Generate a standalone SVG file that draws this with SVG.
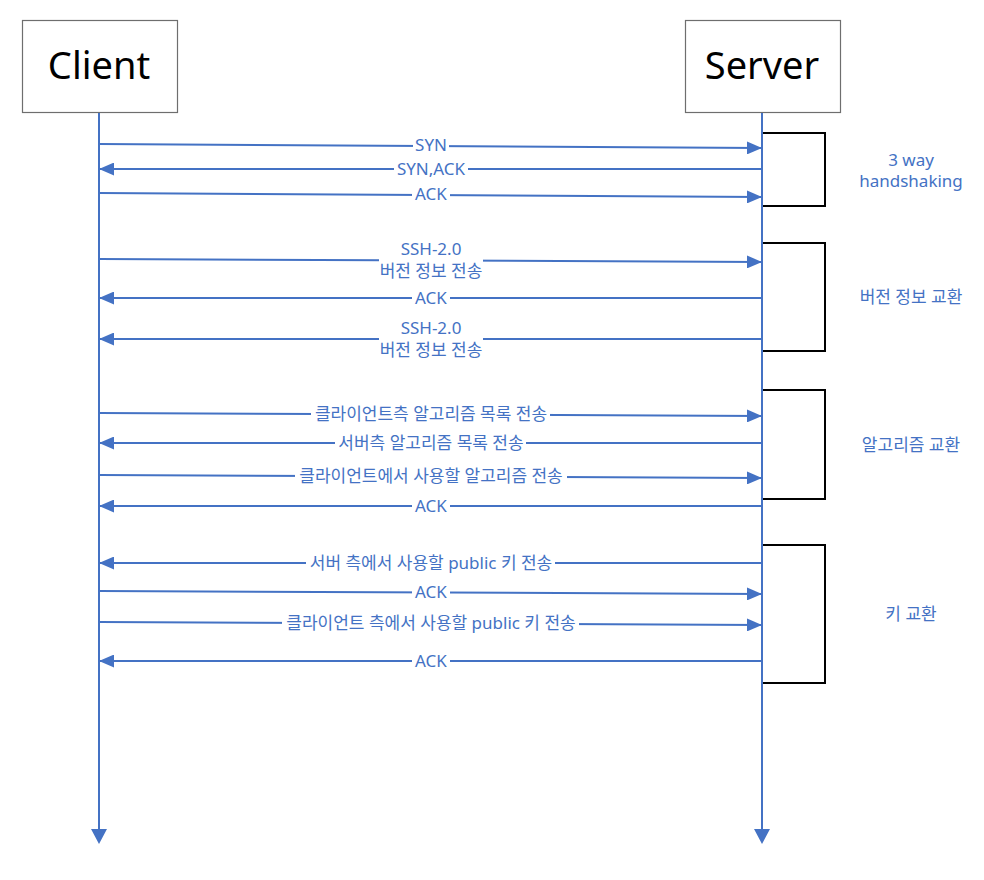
<svg xmlns="http://www.w3.org/2000/svg" width="984" height="880" viewBox="0 0 984 880">
<style>
.box{fill:#fff;stroke:#6e6e6e;stroke-width:1.2}
.title{font-family:"Noto Sans","Noto Sans CJK KR",sans-serif;font-size:38px;fill:#000;text-anchor:middle}
.life{stroke:#4472C4;stroke-width:2;fill:none}
.msg{stroke:#4472C4;stroke-width:2;fill:none;marker-end:url(#ah)}
.gap{fill:#fff}
.lbl{font-family:"Noto Sans","Noto Sans CJK KR",sans-serif;fill:#4472C4;text-anchor:middle}
.en{font-size:17px}
.ko{font-size:17px}
.mx{font-size:17px}
.br{fill:none;stroke:#000;stroke-width:2}
</style>
<defs>
<marker id="ah" viewBox="0 0 15 13" refX="15" refY="6.5" markerWidth="15" markerHeight="13" markerUnits="userSpaceOnUse" orient="auto">
<path d="M0,0 L15,6.5 L0,13 Z" fill="#4472C4"/>
</marker>
</defs>
<rect width="984" height="880" fill="#fff"/>

<g id="phase-3way">
<path class="br" d="M762,133 H825 V206 H762"/>
<text class="lbl en" x="911" y="166">3 way</text>
<text class="lbl en" x="911" y="187">handshaking</text>
</g>
<g id="phase-version">
<path class="br" d="M762,243 H825 V351 H762"/>
<text class="lbl ko" x="911" y="303">버전 정보 교환</text>
</g>
<g id="phase-algorithm">
<path class="br" d="M762,390 H825 V499 H762"/>
<text class="lbl ko" x="911" y="451">알고리즘 교환</text>
</g>
<g id="phase-key">
<path class="br" d="M762,545 H825 V683 H762"/>
<text class="lbl ko" x="911" y="620">키 교환</text>
</g>

<g id="client">
<rect class="box" x="22.5" y="20.5" width="155" height="92"/>
<text class="title" x="99" y="79">Client</text>
</g>
<g id="server">
<rect class="box" x="685.5" y="20.5" width="155" height="92"/>
<text class="title" x="762" y="79">Server</text>
</g>

<g id="connectors">
<path class="life" d="M99,113 V832"/>
<path class="life" d="M762,113 V832"/>
<path d="M754,829 L770,829 L762,844 Z" fill="#4472C4"/>
<path d="M91,829 L107,829 L99,844 Z" fill="#4472C4"/>

<path class="msg" d="M99,144 L762,148"/>
<path class="msg" d="M762,169 L99,169"/>
<path class="msg" d="M99,193 L762,197"/>
<path class="msg" d="M99,259 L762,262"/>
<path class="msg" d="M762,298 L99,298"/>
<path class="msg" d="M762,339 L99,339"/>
<path class="msg" d="M99,413 L762,416"/>
<path class="msg" d="M762,443 L99,443"/>
<path class="msg" d="M99,475 L762,478"/>
<path class="msg" d="M762,506 L99,506"/>
<path class="msg" d="M762,563 L99,563"/>
<path class="msg" d="M99,591 L762,594"/>
<path class="msg" d="M99,622 L762,625"/>
<path class="msg" d="M762,661 L99,661"/>

<rect class="gap" x="413" y="138" width="36" height="16"/>
<rect class="gap" x="394" y="161" width="74" height="16"/>
<rect class="gap" x="412" y="187" width="38" height="16"/>
<rect class="gap" x="379" y="252" width="104" height="17"/>
<rect class="gap" x="412" y="290" width="38" height="16"/>
<rect class="gap" x="379" y="331" width="104" height="17"/>
<rect class="gap" x="311" y="406" width="239" height="17"/>
<rect class="gap" x="335" y="435" width="191" height="16"/>
<rect class="gap" x="295" y="468" width="272" height="17"/>
<rect class="gap" x="412" y="498" width="38" height="16"/>
<rect class="gap" x="306" y="555" width="249" height="16"/>
<rect class="gap" x="412" y="584" width="38" height="17"/>
<rect class="gap" x="282" y="615" width="297" height="17"/>
<rect class="gap" x="412" y="653" width="38" height="16"/>

<text class="lbl en" x="431" y="151">SYN</text>
<text class="lbl en" x="431" y="175">SYN,ACK</text>
<text class="lbl en" x="431" y="200">ACK</text>
<text class="lbl en" x="431" y="255">SSH-2.0</text>
<text class="lbl ko" x="431" y="277">버전 정보 전송</text>
<text class="lbl en" x="431" y="304">ACK</text>
<text class="lbl en" x="431" y="334">SSH-2.0</text>
<text class="lbl ko" x="431" y="356">버전 정보 전송</text>
<text class="lbl ko" x="431" y="420">클라이언트측 알고리즘 목록 전송</text>
<text class="lbl ko" x="431" y="449">서버측 알고리즘 목록 전송</text>
<text class="lbl ko" x="431" y="482">클라이언트에서 사용할 알고리즘 전송</text>
<text class="lbl en" x="431" y="512">ACK</text>
<text class="lbl mx" x="431" y="569">서버 측에서 사용할 public 키 전송</text>
<text class="lbl en" x="431" y="598">ACK</text>
<text class="lbl mx" x="431" y="629">클라이언트 측에서 사용할 public 키 전송</text>
<text class="lbl en" x="431" y="667">ACK</text>
</g>
</svg>
